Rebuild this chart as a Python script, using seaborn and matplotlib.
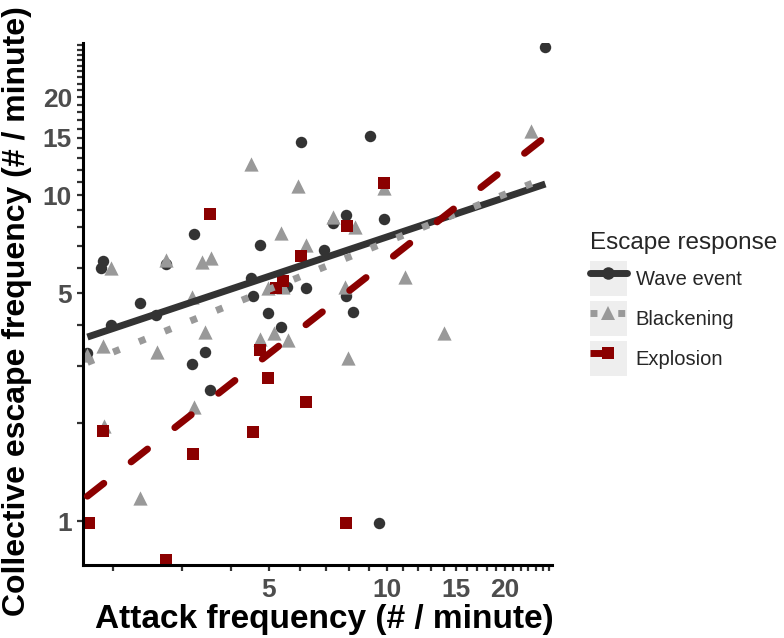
"""Collective escape frequency vs attack frequency, log-log with fitted lines."""

import numpy as np
import pandas as pd
import matplotlib

matplotlib.use("Agg")
import matplotlib.pyplot as plt
import seaborn as sns
from matplotlib.lines import Line2D
from matplotlib.patches import Patch
from matplotlib.legend_handler import HandlerTuple
from matplotlib.ticker import FixedLocator, FixedFormatter, NullFormatter

# --- data (attack freq, escape freq; # / minute) ---
wave_attack = [25.4, 6.03, 9.05, 1.89, 1.86, 2.34, 1.98, 2.58, 3.22, 2.73,
               3.43, 3.18, 3.54, 1.72, 4.74, 4.50, 4.55, 5.56, 6.21, 6.91,
               4.97, 5.37, 7.86, 7.28, 9.82, 7.86, 8.19, 9.54]
wave_escape = [28.6, 14.6, 15.2, 6.27, 5.97, 4.66, 3.99, 4.31, 7.59, 6.14,
               3.30, 3.03, 2.52, 3.28, 7.03, 5.57, 4.90, 5.22, 5.19, 6.78,
               4.35, 3.96, 8.69, 8.21, 8.44, 4.90, 4.38, 0.99]

blackening_attack = [23.3, 4.50, 1.98, 2.73, 3.37, 3.56, 5.37, 5.93, 3.18, 3.43,
                     2.59, 1.88, 6.21, 7.28, 8.29, 4.74, 5.15, 5.59, 7.81, 7.95,
                     4.97, 5.43, 9.82, 11.1, 14.0, 1.90, 2.34, 3.22, 1.72]
blackening_escape = [15.8, 12.5, 5.97, 6.32, 6.23, 6.41, 7.64, 10.7, 4.87, 3.80,
                     3.30, 3.44, 7.03, 8.56, 7.98, 3.62, 3.77, 3.59, 5.22, 3.18,
                     5.19, 5.22, 10.5, 5.60, 3.77, 1.96, 1.18, 2.24, 3.23]

explosion_attack = [3.54, 9.82, 6.03, 7.91, 5.21, 5.43, 4.74, 4.97, 6.21, 4.55,
                    7.86, 1.89, 3.20, 1.74, 2.73]
explosion_escape = [8.74, 10.9, 6.50, 8.03, 5.19, 5.45, 3.35, 2.75, 2.33, 1.88,
                    0.99, 1.89, 1.61, 0.99, 0.76]

responses = ["Wave event", "Blackening", "Explosion"]
colors = {"Wave event": "#333333", "Blackening": "#999999", "Explosion": "#8B0000"}
markers = {"Wave event": "o", "Blackening": "^", "Explosion": "s"}
marker_sizes = {"Wave event": 68, "Blackening": 105, "Explosion": 70}
line_styles = {"Wave event": "-", "Blackening": (0, (1, 3)), "Explosion": (0, (3, 5))}

x_major = [5, 10, 15, 20]
y_major = [1, 5, 10, 15, 20]

df = pd.concat([
    pd.DataFrame({"attack": wave_attack, "escape": wave_escape, "response": "Wave event"}),
    pd.DataFrame({"attack": blackening_attack, "escape": blackening_escape, "response": "Blackening"}),
    pd.DataFrame({"attack": explosion_attack, "escape": explosion_escape, "response": "Explosion"}),
], ignore_index=True)

sns.set_style("ticks")
plt.rcParams["font.family"] = ["Liberation Sans", "DejaVu Sans"]

fig = plt.figure(figsize=(7.84, 6.38), dpi=100)
ax = fig.add_axes([0.106, 0.114, 0.598, 0.819])
ax.set_xscale("log")
ax.set_yscale("log")

for resp in responses:
    sub = df[df["response"] == resp]
    sns.scatterplot(data=sub, x="attack", y="escape", color=colors[resp],
                    marker=markers[resp], s=marker_sizes[resp], linewidth=0,
                    ax=ax, legend=False, zorder=2)

# linear fits on log-log scale, drawn across the full data range
x_lo, x_hi = df["attack"].min(), df["attack"].max()
xs = np.logspace(np.log10(x_lo), np.log10(x_hi), 100)
for i, resp in enumerate(responses):
    sub = df[df["response"] == resp]
    slope, icpt = np.polyfit(np.log10(sub["attack"]), np.log10(sub["escape"]), 1)
    ys = 10 ** (icpt + slope * np.log10(xs))
    capstyle = "round" if resp == "Explosion" else "butt"
    ax.plot(xs, ys, color=colors[resp], lw=5, linestyle=line_styles[resp],
            dash_capstyle=capstyle, solid_capstyle="butt", zorder=3 + i)

ax.set_xlim(1.677, 26.4)
ax.set_ylim(0.733, 29.4)

ax.xaxis.set_major_locator(FixedLocator(x_major))
ax.xaxis.set_major_formatter(FixedFormatter([str(v) for v in x_major]))
ax.xaxis.set_minor_locator(FixedLocator(range(2, 27)))
ax.xaxis.set_minor_formatter(NullFormatter())
ax.yaxis.set_major_locator(FixedLocator(y_major))
ax.yaxis.set_major_formatter(FixedFormatter([str(v) for v in y_major]))
ax.yaxis.set_minor_locator(FixedLocator(range(1, 30)))
ax.yaxis.set_minor_formatter(NullFormatter())

ax.tick_params(which="both", length=4, width=1.6, color="#333333",
               labelsize=19, labelcolor="#4D4D4D", pad=4)
ax.tick_params(axis="x", which="major", pad=5)
for lab in ax.get_xticklabels() + ax.get_yticklabels():
    lab.set_fontweight("bold")

sns.despine(ax=ax)
for side in ["left", "bottom"]:
    ax.spines[side].set_linewidth(2.2)
    ax.spines[side].set_color("black")

ax.set_xlabel("Attack frequency (# / minute)", fontsize=24, fontweight="bold",
              color="black")
ax.set_ylabel("Collective escape frequency (# / minute)", fontsize=23,
              fontweight="bold", color="black")
ax.xaxis.set_label_coords(0.515, -0.074)
ax.yaxis.set_label_coords(-0.108, 0.487)

handles = []
for resp in responses:
    bg = Patch(facecolor="#EEEEEE", edgecolor="none")
    ln = Line2D([], [], color=colors[resp], lw=5, linestyle=line_styles[resp],
                marker=markers[resp], markersize=9 if resp != "Blackening" else 10,
                markeredgewidth=0)
    handles.append((bg, ln))

leg = fig.legend(handles, responses, title="Escape response",
                 handler_map={tuple: HandlerTuple(ndivide=1)},
                 loc="upper left", bbox_to_anchor=(0.753, 0.637),
                 frameon=False, fontsize=14.5, title_fontsize=17.5,
                 handlelength=1.8, handleheight=2.37, labelspacing=0.2,
                 handletextpad=0.45, borderaxespad=0, borderpad=0)
leg._legend_box.align = "left"
leg._legend_box.sep = 5

fig.savefig("out.png", dpi=100)
